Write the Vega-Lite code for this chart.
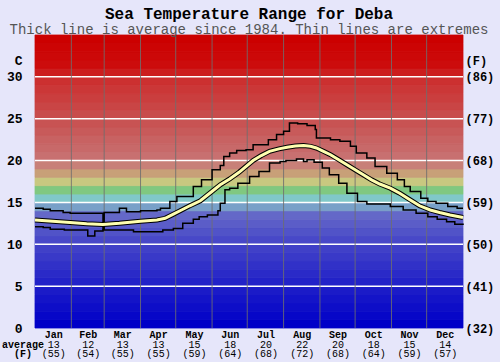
{
  "$schema": "https://vega.github.io/schema/vega-lite/v6.json",
  "width": 428,
  "height": 293,
  "autosize": {"type": "none"},
  "padding": {"left": 35, "top": 35, "right": 37, "bottom": 34},
  "background": "#e6e6fa",
  "title": {
    "text": "Sea Temperature Range for Deba",
    "subtitle": "Thick line is average since 1984. Thin lines are extremes",
    "font": "Liberation Mono",
    "fontSize": 16,
    "fontWeight": "bold",
    "color": "#000000",
    "subtitleFont": "Liberation Mono",
    "subtitleFontSize": 14,
    "subtitleColor": "#555555",
    "anchor": "middle",
    "offset": -2,
    "subtitlePadding": 1
  },
  "config": {"view": {"stroke": null}},
  "datasets": {
    "bands": [
      {"t": 0, "t2": 1}, {"t": 1, "t2": 2}, {"t": 2, "t2": 3}, {"t": 3, "t2": 4}, {"t": 4, "t2": 5},
      {"t": 5, "t2": 6}, {"t": 6, "t2": 7}, {"t": 7, "t2": 8}, {"t": 8, "t2": 9}, {"t": 9, "t2": 10},
      {"t": 10, "t2": 11}, {"t": 11, "t2": 12}, {"t": 12, "t2": 13}, {"t": 13, "t2": 14}, {"t": 14, "t2": 15},
      {"t": 15, "t2": 16}, {"t": 16, "t2": 17}, {"t": 17, "t2": 18}, {"t": 18, "t2": 19}, {"t": 19, "t2": 20},
      {"t": 20, "t2": 21}, {"t": 21, "t2": 22}, {"t": 22, "t2": 23}, {"t": 23, "t2": 24}, {"t": 24, "t2": 25},
      {"t": 25, "t2": 26}, {"t": 26, "t2": 27}, {"t": 27, "t2": 28}, {"t": 28, "t2": 29}, {"t": 29, "t2": 30},
      {"t": 30, "t2": 31}, {"t": 31, "t2": 32}, {"t": 32, "t2": 33}, {"t": 33, "t2": 34}, {"t": 34, "t2": 35}
    ],
    "hgrid": [{"t": 5}, {"t": 10}, {"t": 15}, {"t": 20}, {"t": 25}, {"t": 30}],
    "vgrid": [{"d": 31}, {"d": 59}, {"d": 90}, {"d": 120}, {"d": 151}, {"d": 181}, {"d": 212}, {"d": 243}, {"d": 273}, {"d": 304}, {"d": 334}],
    "avg": [
      {"d": 0, "v": 12.9}, {"d": 15, "v": 12.75}, {"d": 30, "v": 12.6}, {"d": 44, "v": 12.45}, {"d": 58, "v": 12.35},
      {"d": 72, "v": 12.5}, {"d": 90, "v": 12.75}, {"d": 104, "v": 12.9}, {"d": 111, "v": 13.1}, {"d": 118, "v": 13.6},
      {"d": 125, "v": 14.1}, {"d": 132, "v": 14.6}, {"d": 141, "v": 15.2}, {"d": 149, "v": 16.1}, {"d": 158, "v": 17.1},
      {"d": 166, "v": 17.8}, {"d": 174, "v": 18.6}, {"d": 186, "v": 20.0}, {"d": 193, "v": 20.6}, {"d": 200, "v": 21.1},
      {"d": 208, "v": 21.4}, {"d": 215, "v": 21.6}, {"d": 222, "v": 21.75}, {"d": 229, "v": 21.8}, {"d": 235, "v": 21.7},
      {"d": 240, "v": 21.5}, {"d": 246, "v": 21.1}, {"d": 252, "v": 20.7}, {"d": 259, "v": 20.1}, {"d": 266, "v": 19.5},
      {"d": 273, "v": 18.9}, {"d": 280, "v": 18.3}, {"d": 287, "v": 17.7}, {"d": 294, "v": 17.2}, {"d": 303, "v": 16.7},
      {"d": 311, "v": 16.1}, {"d": 320, "v": 15.3}, {"d": 328, "v": 14.6}, {"d": 337, "v": 14.1}, {"d": 345, "v": 13.8},
      {"d": 354, "v": 13.5}, {"d": 365, "v": 13.2}
    ],
    "max": [
      {"d": 0, "v": 14.3}, {"d": 7, "v": 14.2}, {"d": 13, "v": 14.0}, {"d": 24, "v": 13.8}, {"d": 30, "v": 13.7},
      {"d": 58, "v": 11.8}, {"d": 59, "v": 13.8}, {"d": 72, "v": 14.3}, {"d": 78, "v": 13.9}, {"d": 90, "v": 14.0},
      {"d": 104, "v": 14.1}, {"d": 107, "v": 14.3}, {"d": 115, "v": 15.1}, {"d": 121, "v": 15.7}, {"d": 135, "v": 16.9},
      {"d": 142, "v": 17.7}, {"d": 151, "v": 18.9}, {"d": 158, "v": 19.4}, {"d": 161, "v": 20.5}, {"d": 166, "v": 20.9},
      {"d": 172, "v": 21.2}, {"d": 180, "v": 21.3}, {"d": 186, "v": 21.9}, {"d": 199, "v": 22.5}, {"d": 206, "v": 23.1},
      {"d": 212, "v": 23.5}, {"d": 217, "v": 24.5}, {"d": 224, "v": 24.4}, {"d": 232, "v": 24.2}, {"d": 239, "v": 23.7},
      {"d": 240, "v": 22.7}, {"d": 252, "v": 22.5}, {"d": 260, "v": 22.3}, {"d": 269, "v": 21.7}, {"d": 274, "v": 20.9},
      {"d": 283, "v": 20.3}, {"d": 290, "v": 19.3}, {"d": 300, "v": 18.5}, {"d": 309, "v": 17.7}, {"d": 315, "v": 16.9},
      {"d": 320, "v": 16.3}, {"d": 329, "v": 15.5}, {"d": 335, "v": 15.1}, {"d": 342, "v": 14.9}, {"d": 352, "v": 14.5},
      {"d": 360, "v": 14.3}, {"d": 365, "v": 14.3}
    ],
    "min": [
      {"d": 0, "v": 12.1}, {"d": 7, "v": 12.0}, {"d": 13, "v": 11.8}, {"d": 25, "v": 11.7}, {"d": 45, "v": 11.0},
      {"d": 51, "v": 11.6}, {"d": 58, "v": 11.7}, {"d": 84, "v": 11.5}, {"d": 109, "v": 11.7}, {"d": 118, "v": 11.9},
      {"d": 126, "v": 12.5}, {"d": 135, "v": 13.0}, {"d": 140, "v": 13.3}, {"d": 147, "v": 13.5}, {"d": 156, "v": 14.0},
      {"d": 158, "v": 14.9}, {"d": 162, "v": 16.5}, {"d": 166, "v": 16.7}, {"d": 173, "v": 17.3}, {"d": 183, "v": 18.1},
      {"d": 191, "v": 18.7}, {"d": 200, "v": 19.7}, {"d": 209, "v": 19.9}, {"d": 214, "v": 20.0}, {"d": 223, "v": 20.2},
      {"d": 229, "v": 19.9}, {"d": 232, "v": 20.1}, {"d": 238, "v": 19.8}, {"d": 245, "v": 19.1}, {"d": 251, "v": 18.3},
      {"d": 259, "v": 17.3}, {"d": 266, "v": 16.1}, {"d": 275, "v": 15.1}, {"d": 283, "v": 14.8}, {"d": 303, "v": 14.5},
      {"d": 314, "v": 14.1}, {"d": 325, "v": 13.7}, {"d": 335, "v": 13.3}, {"d": 343, "v": 13.0}, {"d": 351, "v": 12.7},
      {"d": 358, "v": 12.4}, {"d": 365, "v": 12.3}
    ]
  },
  "resolve": {"axis": {"x": "independent", "y": "independent"}},
  "layer": [
    {
      "data": {"name": "bands"},
      "mark": {"type": "rect", "strokeWidth": 0.8},
      "encoding": {
        "y": {"field": "t", "type": "quantitative", "scale": {"domain": [0, 35], "nice": false, "zero": true}, "axis": null},
        "y2": {"field": "t2"},
        "color": {
          "field": "t",
          "type": "quantitative",
          "legend": null,
          "scale": {
            "domain": [0, 5, 10, 13, 14, 15, 16, 17, 18, 19, 20, 25, 29, 31, 34],
            "range": ["#0000c8", "#2222c8", "#4848c8", "#6468c8", "#78a0c8", "#80c8c8", "#80c880", "#c8c880", "#c8a078", "#c88078", "#c87070", "#c84c4c", "#cc3030", "#cc0c0c", "#cc0000"],
            "interpolate": "rgb"
          }
        },
        "stroke": {
          "field": "t",
          "type": "quantitative",
          "legend": null,
          "scale": {
            "domain": [0, 5, 10, 13, 14, 15, 16, 17, 18, 19, 20, 25, 29, 31, 34],
            "range": ["#0000c8", "#2222c8", "#4848c8", "#6468c8", "#78a0c8", "#80c8c8", "#80c880", "#c8c880", "#c8a078", "#c88078", "#c87070", "#c84c4c", "#cc3030", "#cc0c0c", "#cc0000"],
            "interpolate": "rgb"
          }
        }
      }
    },
    {
      "data": {"name": "hgrid"},
      "mark": {"type": "rule", "color": "#ffffff", "strokeWidth": 1.5},
      "encoding": {
        "y": {"field": "t", "type": "quantitative", "axis": null}
      }
    },
    {
      "data": {"name": "vgrid"},
      "mark": {"type": "rule", "color": "#6e6e6e", "strokeWidth": 1, "opacity": 0.85},
      "encoding": {
        "x": {"field": "d", "type": "quantitative", "scale": {"domain": [0, 365], "nice": false, "zero": false}, "axis": null}
      }
    },
    {
      "data": {"name": "max"},
      "mark": {"type": "line", "interpolate": "step-after", "color": "#000000", "strokeWidth": 1.5},
      "encoding": {
        "x": {
          "field": "d", "type": "quantitative",
          "axis": {
            "orient": "bottom",
            "values": [15.5, 45, 74.5, 105, 135.5, 166, 196.5, 227.5, 258, 288.5, 319, 349.5],
            "labelExpr": "['Jan','Feb','Mar','Apr','May','Jun','Jul','Aug','Sep','Oct','Nov','Dec'][floor(datum.value / 30.5)]",
            "labelFont": "Liberation Mono", "labelFontSize": 10, "labelFontWeight": "bold", "labelColor": "#000000",
            "labelPadding": 1, "labelFlush": false, "labelOverlap": false, "labelBound": false,
            "ticks": false, "domain": false, "grid": false, "title": null
          }
        },
        "y": {
          "field": "v", "type": "quantitative",
          "axis": {
            "orient": "left",
            "values": [0, 5, 10, 15, 20, 25, 30, 32],
            "labelExpr": "datum.value == 32 ? 'C' : datum.label",
            "labelFont": "Liberation Mono", "labelFontSize": 13, "labelFontWeight": "bold", "labelColor": "#000000",
            "labelPadding": 13, "labelFlush": false, "labelOverlap": false, "labelBound": false,
            "ticks": false, "domain": false, "grid": false, "title": null
          }
        }
      }
    },
    {
      "data": {"name": "min"},
      "mark": {"type": "line", "interpolate": "step-after", "color": "#000000", "strokeWidth": 1.5},
      "encoding": {
        "x": {
          "field": "d", "type": "quantitative",
          "axis": {
            "orient": "bottom",
            "offset": 10,
            "values": [15.5, 45, 74.5, 105, 135.5, 166, 196.5, 227.5, 258, 288.5, 319, 349.5],
            "labelExpr": "[toString([13,12,13,13,15,18,20,22,20,18,15,14][floor(datum.value / 30.5)]), '(' + [55,54,55,55,59,64,68,72,68,64,59,57][floor(datum.value / 30.5)] + ')']",
            "labelFont": "Liberation Mono", "labelFontSize": 10, "labelColor": "#000000", "labelLineHeight": 9.5,
            "labelPadding": 1, "labelFlush": false, "labelOverlap": false, "labelBound": false,
            "ticks": false, "domain": false, "grid": false,
            "title": ["average", "(F)"],
            "titleFont": "Liberation Mono", "titleFontSize": 10, "titleFontWeight": "bold", "titleColor": "#000000",
            "titleLineHeight": 9.5, "titleAngle": 0, "titleAlign": "center", "titleBaseline": "top",
            "titleX": -12.5, "titleY": 1
          }
        },
        "y": {
          "field": "v", "type": "quantitative",
          "axis": {
            "orient": "right",
            "values": [0, 5, 10, 15, 20, 25, 30, 32],
            "labelExpr": "datum.value == 32 ? '(F)' : '(' + round(datum.value * 9 / 5 + 32) + ')'",
            "labelFont": "Liberation Mono", "labelFontSize": 12, "labelFontWeight": "bold", "labelColor": "#000000",
            "labelPadding": 2, "labelFlush": false, "labelOverlap": false, "labelBound": false,
            "ticks": false, "domain": false, "grid": false, "title": null
          }
        }
      }
    },
    {
      "data": {"name": "avg"},
      "mark": {"type": "line", "color": "#000000", "strokeWidth": 5},
      "encoding": {
        "x": {"field": "d", "type": "quantitative", "axis": null},
        "y": {"field": "v", "type": "quantitative", "axis": null}
      }
    },
    {
      "data": {"name": "avg"},
      "mark": {"type": "line", "color": "#ffffb0", "strokeWidth": 3},
      "encoding": {
        "x": {"field": "d", "type": "quantitative", "axis": null},
        "y": {"field": "v", "type": "quantitative", "axis": null}
      }
    }
  ]
}
